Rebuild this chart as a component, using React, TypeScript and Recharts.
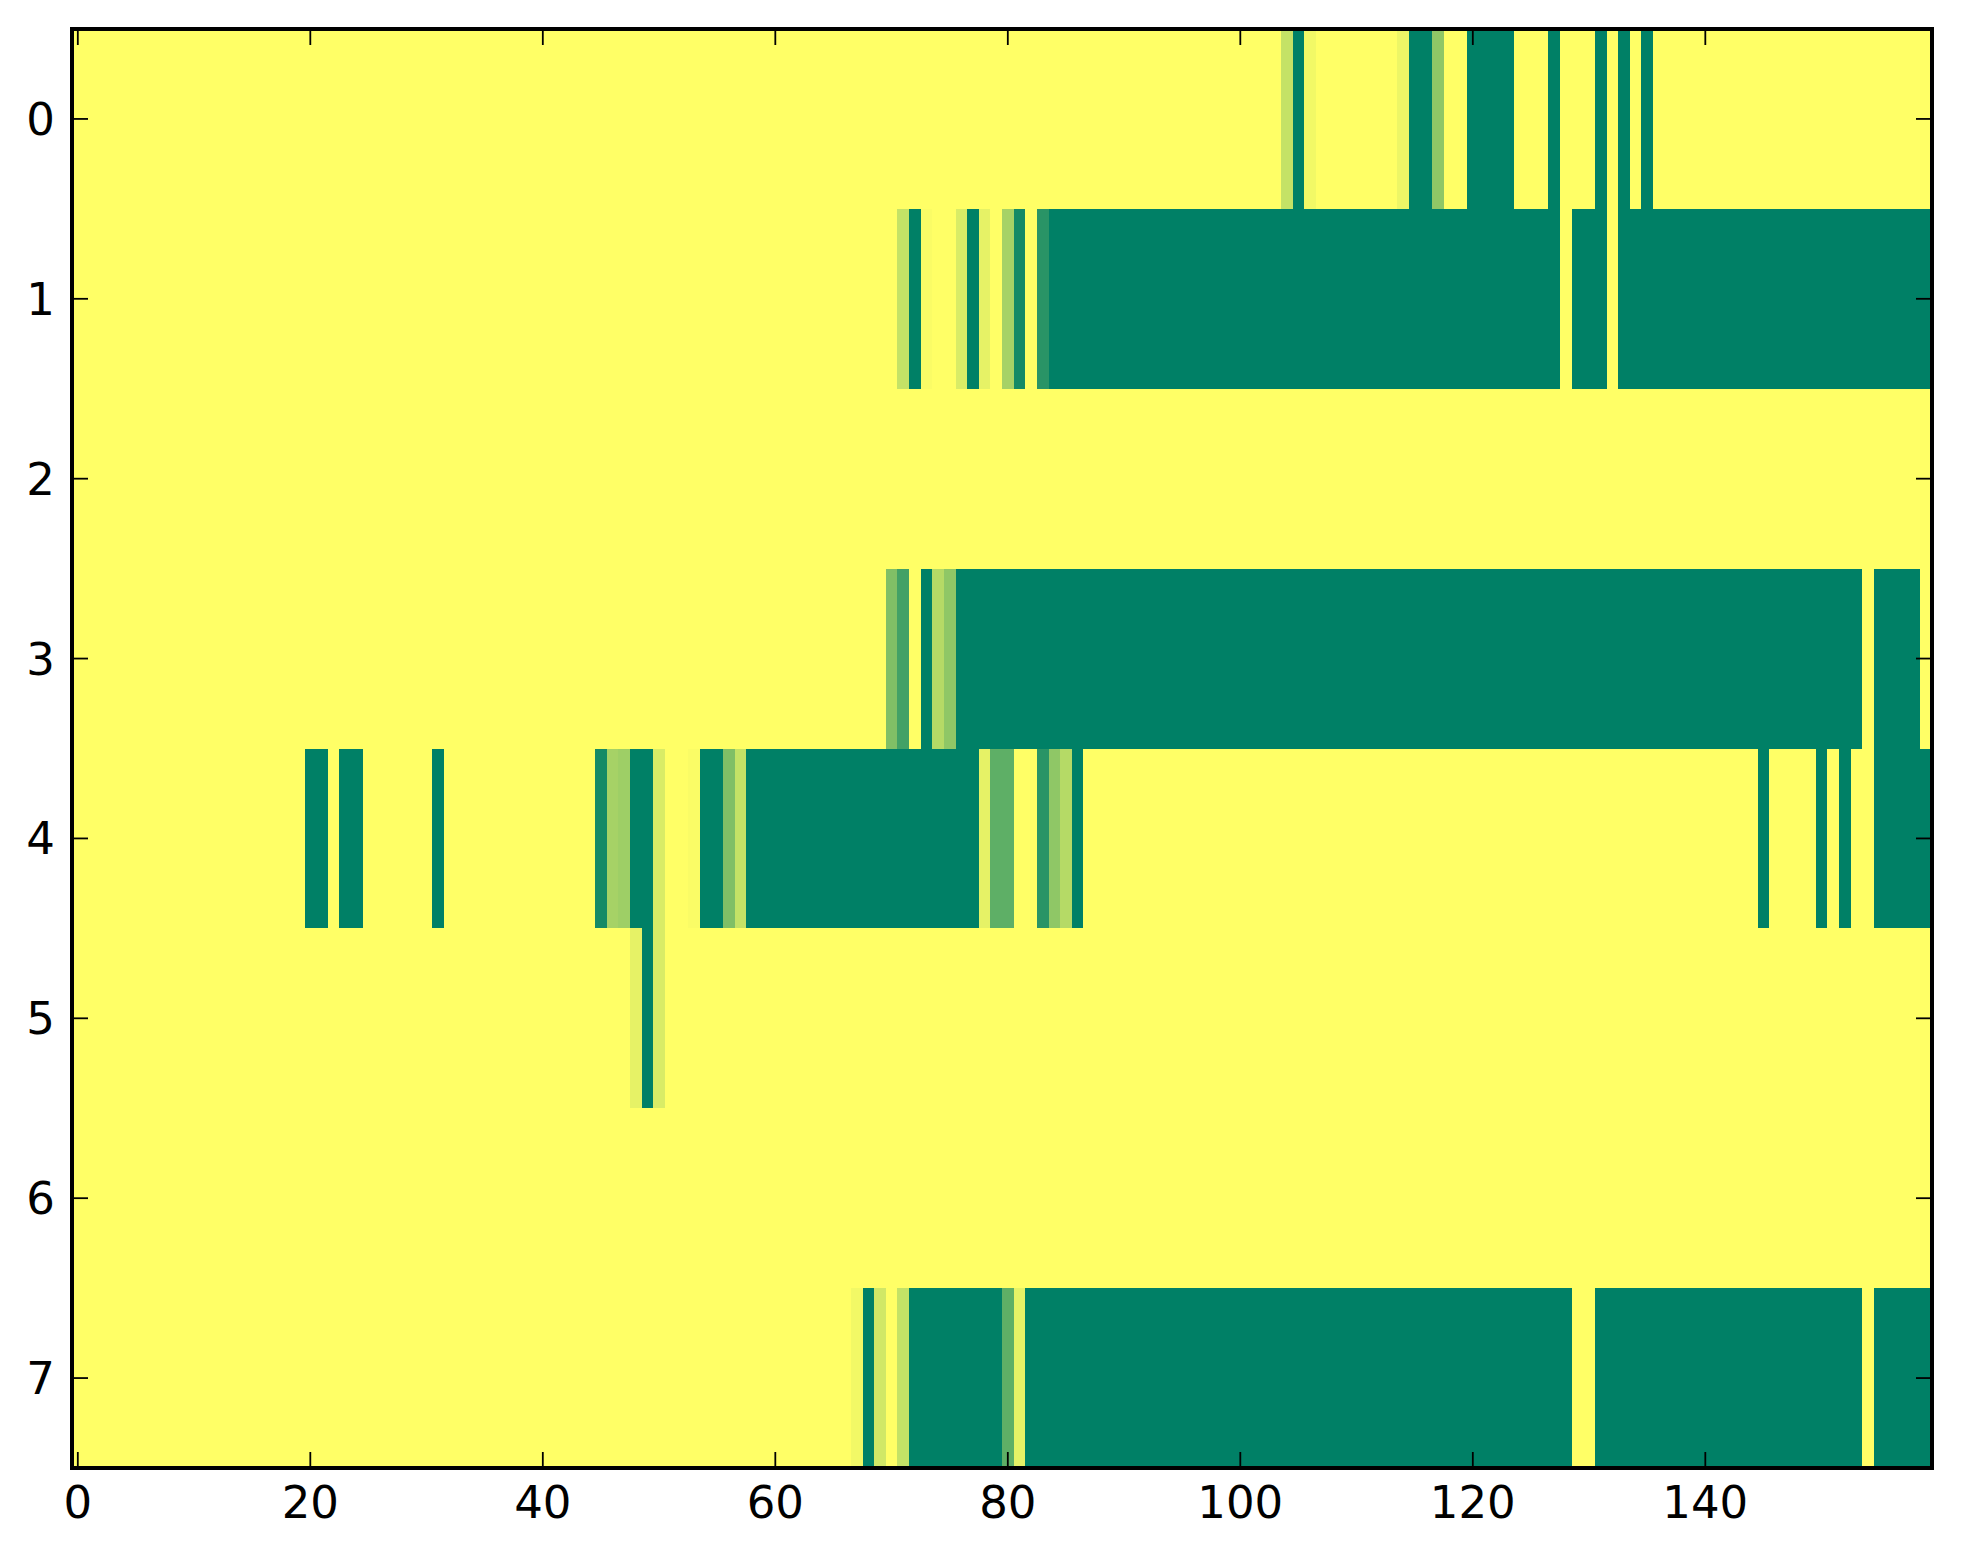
import { ScatterChart, XAxis, YAxis, ReferenceArea } from "recharts";

// 8 rows x 160 columns, one character per cell (see LEVELS), written in groups of 10
const LEVELS: Record<string, number> = {
  ".": 0, a: 0.02, b: 0.05, c: 0.07, d: 0.1, e: 0.15, f: 0.18, g: 0.23, h: 0.29,
  i: 0.35, j: 0.38, k: 0.44, l: 0.5, m: 0.63, n: 0.74, o: 0.84, p: 0.92, "#": 1,
};

const ROW_0 = [
  "..........", "..........", "..........", "..........", "..........", "..........", "..........", "..........",
  "..........", "..........", "....g#b...", "....c##k..", "####...#..", ".#.#.#....", "..........", "..........",
];
const ROW_1 = [
  "..........", "..........", "..........", "..........", "..........", "..........", "..........", ".g#a..e#d.",
  "ip.o######", "##########", "##########", "##########", "########.#", "##.#######", "##########", "##########",
];
const ROW_2 = [
  "..........", "..........", "..........", "..........", "..........", "..........", "..........", "..........",
  "..........", "..........", "..........", "..........", "..........", "..........", "..........", "..........",
];
const ROW_3 = [
  "..........", "..........", "..........", "..........", "..........", "..........", "..........", "ln.#hk####",
  "##########", "##########", "##########", "##########", "##########", "##########", "##########", "####.####.",
];
const ROW_4 = [
  "..........", "..........", "##.##.....", ".#........", ".....pij##", "e..a##lg##", "##########", "########dm",
  "m..okh#...", "..........", "..........", "..........", "..........", "..........", ".....#....", "#.#..#####",
];
const ROW_5 = [
  "..........", "..........", "..........", "..........", "........d#", "e.........", "..........", "..........",
  "..........", "..........", "..........", "..........", "..........", "..........", "..........", "..........",
];
const ROW_6 = [
  "..........", "..........", "..........", "..........", "..........", "..........", "..........", "..........",
  "..........", "..........", "..........", "..........", "..........", "..........", "..........", "..........",
];
const ROW_7 = [
  "..........", "..........", "..........", "..........", "..........", "..........", ".......b#f", ".g########",
  "md########", "##########", "##########", "##########", "#########.", ".#########", "##########", "####.#####",
];

const ROWS = [ROW_0, ROW_1, ROW_2, ROW_3, ROW_4, ROW_5, ROW_6, ROW_7];
const X_TICKS = [0, 20, 40, 60, 80, 100, 120, 140];
const Y_TICKS = [0, 1, 2, 3, 4, 5, 6, 7];

const W = 1963;
const H = 1564;
const FONT = "DejaVu Sans";
const FS = 45;
const TICK_LEN = 16;

// matplotlib summer_r
function summerR(v: number) {
  const r = Math.round(255 * (1 - v));
  const g = Math.round(255 * (1 - 0.5 * v));
  return `rgb(${r},${g},102)`;
}

type Run = { row: number; start: number; end: number; value: number };

function buildRuns(): Run[] {
  const runs: Run[] = [];
  ROWS.forEach((groups, row) => {
    const vals = groups.join("").split("").map((ch) => LEVELS[ch] ?? 0);
    let start = 0;
    for (let c = 1; c <= vals.length; c++) {
      if (c === vals.length || vals[c] !== vals[start]) {
        if (vals[start] > 0) runs.push({ row, start, end: c - 1, value: vals[start] });
        start = c;
      }
    }
  });
  return runs;
}

const axisLine = { stroke: "#000", strokeWidth: 4, strokeLinecap: "square" as const };

const BottomTick = (p: any) => (
  <g>
    <line x1={p.x} x2={p.x} y1={p.y} y2={p.y - TICK_LEN} stroke="#000" strokeWidth={1.8} />
    <text x={p.x} y={p.y + 50} textAnchor="middle" fontFamily={FONT} fontSize={FS} fill="#000">
      {p.payload.value}
    </text>
  </g>
);
const TopTick = (p: any) => (
  <line x1={p.x} x2={p.x} y1={p.y} y2={p.y + TICK_LEN} stroke="#000" strokeWidth={1.8} />
);
const LeftTick = (p: any) => (
  <g>
    <line x1={p.x} x2={p.x + TICK_LEN} y1={p.y} y2={p.y} stroke="#000" strokeWidth={1.8} />
    <text x={p.x - 17} y={p.y + 16} textAnchor="end" fontFamily={FONT} fontSize={FS} fill="#000">
      {p.payload.value}
    </text>
  </g>
);
const RightTick = (p: any) => (
  <line x1={p.x} x2={p.x - TICK_LEN} y1={p.y} y2={p.y} stroke="#000" strokeWidth={1.8} />
);

export default function App() {
  const runs = buildRuns();
  return (
    <div style={{ position: "absolute", left: 0, top: 0, background: "#fff" }}>
      <ScatterChart width={W} height={H} margin={{ top: 0, right: 0, bottom: 0, left: 0 }}>
        <ReferenceArea
          xAxisId="b" yAxisId="l" x1={-0.5} x2={159.5} y1={-0.5} y2={7.5}
          fill={summerR(0)} fillOpacity={1} stroke="none" ifOverflow="visible"
        />
        {runs.map((r) => (
          <ReferenceArea
            key={`${r.row}-${r.start}`}
            xAxisId="b" yAxisId="l"
            x1={r.start - 0.5} x2={r.end + 0.5} y1={r.row - 0.5} y2={r.row + 0.5}
            fill={summerR(r.value)} fillOpacity={1} stroke="none" ifOverflow="visible"
            shapeRendering="crispEdges"
          />
        ))}
        <XAxis
          xAxisId="b" type="number" dataKey="x" orientation="bottom" height={96}
          domain={[-0.5, 159.5]} ticks={X_TICKS} interval={0} allowDataOverflow
          tickSize={0} tickMargin={0} tickLine={false} axisLine={axisLine} tick={BottomTick}
        />
        <XAxis
          xAxisId="t" type="number" dataKey="x" orientation="top" height={29}
          domain={[-0.5, 159.5]} ticks={X_TICKS} interval={0} allowDataOverflow
          tickSize={0} tickMargin={0} tickLine={false} axisLine={axisLine} tick={TopTick}
        />
        <YAxis
          yAxisId="l" type="number" dataKey="y" orientation="left" width={72} reversed
          domain={[-0.5, 7.5]} ticks={Y_TICKS} interval={0} allowDataOverflow
          tickSize={0} tickMargin={0} tickLine={false} axisLine={axisLine} tick={LeftTick}
        />
        <YAxis
          yAxisId="r" type="number" dataKey="y" orientation="right" width={31} reversed
          domain={[-0.5, 7.5]} ticks={Y_TICKS} interval={0} allowDataOverflow
          tickSize={0} tickMargin={0} tickLine={false} axisLine={axisLine} tick={RightTick}
        />
      </ScatterChart>
    </div>
  );
}
